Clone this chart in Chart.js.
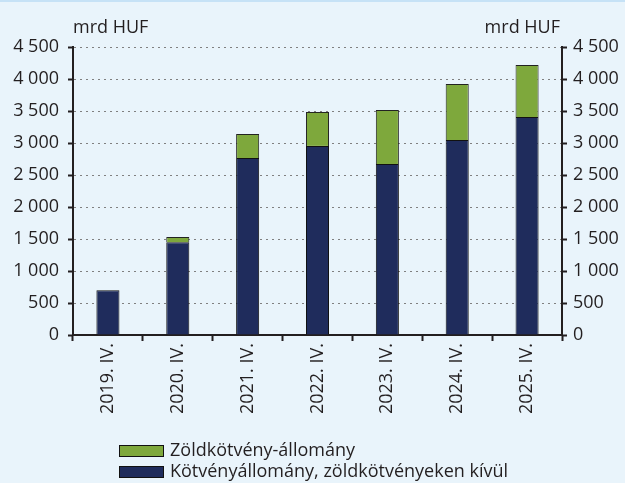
<!DOCTYPE html>
<html>
<head>
<meta charset="utf-8">
<script src="https://cdn.jsdelivr.net/npm/chart.js@4"></script>
<style>
  html, body { margin: 0; padding: 0; background: #e9f4fb; }
  #wrap { width: 625px; height: 483px; position: relative; }
  #strip { position: absolute; left: 0; top: 0; width: 625px; height: 2px; background: #c6e2f6; }
  canvas { display: block; }
</style>
</head>
<body>
<div id="wrap"><canvas id="chart" width="625" height="483"></canvas><div id="strip"></div></div>
<script>
const labels = ['2019. IV.', '2020. IV.', '2021. IV.', '2022. IV.', '2023. IV.', '2024. IV.', '2025. IV.'];
const kotveny = [700, 1450, 2765, 2955, 2670, 3045, 3405];
const zold = [0, 80, 375, 530, 845, 875, 815];
const yTicks = [0, 500, 1000, 1500, 2000, 2500, 3000, 3500, 4000, 4500];
const unit = 'mrd HUF';

const FONT = '"Open Sans", sans-serif';
const SIZE = 18;
const INK = '#231f20';

const fmt = v => String(v).replace(/\B(?=(\d{3})+(?!\d))/g, ' ');

// unit labels above the axes + legend in two rows at the bottom
const extras = {
  id: 'extras',
  afterDraw(chart) {
    const { ctx, chartArea } = chart;
    ctx.save();
    ctx.font = SIZE + 'px ' + FONT;
    ctx.fillStyle = INK;
    ctx.textBaseline = 'alphabetic';
    ctx.textAlign = 'left';
    ctx.fillText(unit, chartArea.left, 33);
    ctx.textAlign = 'right';
    ctx.fillText(unit, chartArea.right - 2, 33);

    const items = chart.data.datasets.slice().reverse();
    items.forEach((ds, i) => {
      const y = 443 + i * 21;
      ctx.fillStyle = ds.backgroundColor;
      ctx.fillRect(119, y + 2, 44, 11);
      ctx.strokeStyle = '#111';
      ctx.lineWidth = 1;
      ctx.strokeRect(119.5, y + 2.5, 44, 11);
      ctx.fillStyle = INK;
      ctx.textAlign = 'left';
      ctx.textBaseline = 'middle';
      ctx.fillText(ds.label, 170, y + 8);
    });
    ctx.restore();
  }
};

new Chart(document.getElementById('chart'), {
  type: 'bar',
  data: {
    labels: labels,
    datasets: [
      {
        label: 'Kötvényállomány, zöldkötvényeken kívül',
        data: kotveny,
        backgroundColor: '#1f2c5c',
        borderColor: '#111',
        borderWidth: 1,
        barPercentage: 0.33,
        categoryPercentage: 1
      },
      {
        label: 'Zöldkötvény-állomány',
        data: zold,
        backgroundColor: '#7ea83c',
        borderColor: '#222',
        borderWidth: 1,
        barPercentage: 0.33,
        categoryPercentage: 1
      }
    ]
  },
  options: {
    responsive: false,
    animation: false,
    devicePixelRatio: 1,
    layout: { padding: { top: 47, bottom: 0, left: 0, right: 0 } },
    plugins: {
      legend: { display: false },
      tooltip: { enabled: false }
    },
    scales: {
      x: {
        stacked: true,
        afterFit: s => { s.height = 148; },
        grid: { drawOnChartArea: false, drawTicks: true, tickLength: 6, tickColor: INK, tickWidth: 2, offset: true },
        border: { color: INK, width: 2 },
        ticks: { color: INK, font: { family: FONT, size: SIZE }, minRotation: 90, maxRotation: 90, padding: 2 }
      },
      y: {
        stacked: true,
        position: 'left',
        min: 0, max: 4500,
        afterFit: s => { s.width = 73; },
        afterBuildTicks: s => { s.ticks = yTicks.map(v => ({ value: v })); },
        grid: { color: '#808080', lineWidth: 1, drawTicks: true, tickLength: 5, tickColor: INK, tickWidth: 2 },
        border: { color: INK, width: 2, dash: [2, 4] },
        ticks: { color: INK, font: { family: FONT, size: SIZE }, padding: 9, callback: v => fmt(v) }
      },
      y2: {
        position: 'right',
        min: 0, max: 4500,
        afterFit: s => { s.width = 63; },
        afterBuildTicks: s => { s.ticks = yTicks.map(v => ({ value: v })); },
        grid: { drawOnChartArea: false, drawTicks: true, tickLength: 5, tickColor: INK, tickWidth: 2 },
        border: { color: INK, width: 2 },
        ticks: { color: INK, font: { family: FONT, size: SIZE }, padding: 6, callback: v => fmt(v) }
      }
    }
  },
  plugins: [extras]
});
</script>
</body>
</html>
